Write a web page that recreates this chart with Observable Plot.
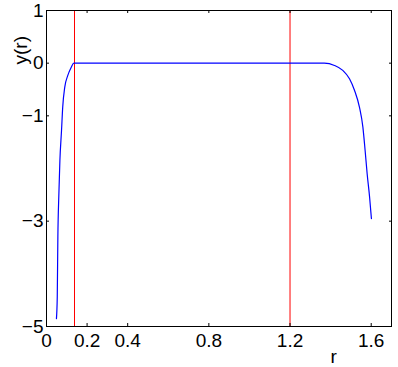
<!DOCTYPE html>
<html>
<head>
<meta charset="utf-8">
<script src="https://cdn.jsdelivr.net/npm/d3@7"></script>
<script src="https://cdn.jsdelivr.net/npm/@observablehq/plot@0.6"></script>
<style>
  html, body { margin: 0; padding: 0; background: #fff; }
</style>
</head>
<body>
<div id="chart"></div>
<script>
// Curve samples
const rValues = [0.049, 0.053, 0.056, 0.061, 0.066, 0.074, 0.080, 0.090, 0.105, 0.122, 0.135,
                 1.369, 1.419, 1.460, 1.493, 1.518, 1.542, 1.559, 1.570, 1.580, 1.592, 1.601];
const yValues = [-4.85, -4.44, -3.30, -2.48, -1.85, -1.28, -0.83, -0.455, -0.233, -0.076, 0,
                 0, -0.043, -0.138, -0.296, -0.518, -0.835, -1.214, -1.657, -2.10, -2.54, -2.95];
// Red vertical markers
const markerR = [0.138, 1.2];
// Ticks
const xTicks = [0, 0.2, 0.4, 0.8, 1.2, 1.6];
const xTickLabels = ["0", "0.2", "0.4", "0.8", "1.2", "1.6"];
const yTicks = [1, 0, -1, -3, -5];
const yTickLabels = ["1", "0", "\u22121", "\u22123", "\u22125"];
const xLabel = "r";
const yLabel = "y(r)";

const curve = rValues.map((r, i) => ({r, y: yValues[i]}));

const W = 398, H = 367, mL = 46, mR = 7, mT = 10, mB = 41, tick = 3;
const frameH = H - mT - mB;

const chart = Plot.plot({
  width: W,
  height: H,
  marginLeft: mL,
  marginRight: mR,
  marginTop: mT,
  marginBottom: mB,
  style: {fontFamily: "'Liberation Sans', Arial, Helvetica, sans-serif", fontSize: "19px", background: "white", color: "black"},
  x: {domain: [0, 1.7]},
  y: {domain: [-5, 1]},
  marks: [
    Plot.ruleX(markerR, {stroke: "#ff0000", strokeWidth: 1}),
    Plot.line(curve, {x: "r", y: "y", stroke: "#0000ff", strokeWidth: 1.2, curve: "monotone-x"}),
    Plot.frame({stroke: "black", strokeWidth: 1}),
    // tick labels
    Plot.axisX(xTicks, {anchor: "bottom", tickSize: 0, tickPadding: 7, tickFormat: (d, i) => xTickLabels[i], label: null}),
    Plot.axisY(yTicks, {anchor: "left", tickSize: 0, tickPadding: 3, tickFormat: (d, i) => yTickLabels[i], label: null}),
    // inward ticks on all sides
    Plot.tickX(xTicks, {x: d => d, insetTop: frameH - tick, stroke: "black"}),
    Plot.tickX(xTicks, {x: d => d, insetBottom: frameH - tick, stroke: "black"}),
    Plot.axisY(yTicks, {anchor: "left", tickSize: -tick, fill: "none", label: null, stroke: "black"}),
    Plot.axisY(yTicks, {anchor: "right", tickSize: -tick, fill: "none", label: null, stroke: "black"}),
    // axis titles
    Plot.text([yLabel], {frameAnchor: "top-left", rotate: -90, dx: -33, dy: 54, text: d => d, fill: "black"}),
    Plot.text([xLabel], {frameAnchor: "bottom-left", dx: 284, dy: 36, lineAnchor: "bottom", text: d => d, fill: "black"})
  ]
});
document.getElementById("chart").appendChild(chart);
</script>
</body>
</html>
